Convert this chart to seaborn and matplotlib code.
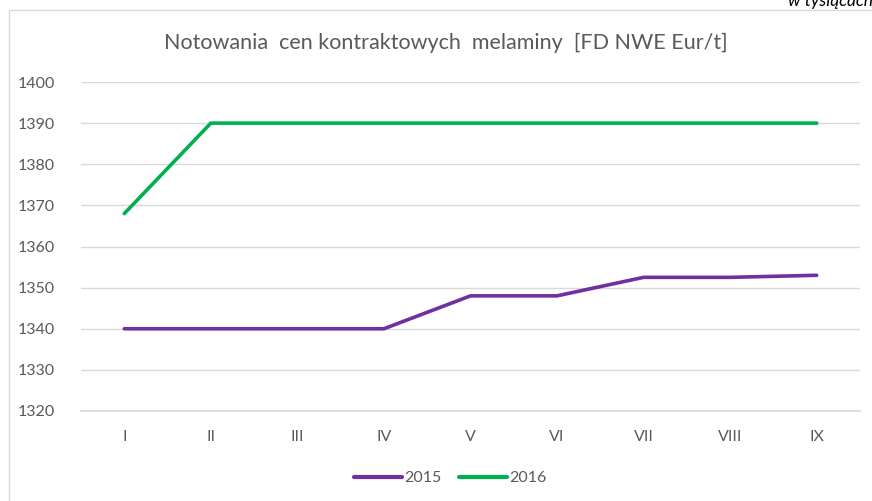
import matplotlib
matplotlib.use("Agg")
import matplotlib.pyplot as plt
import matplotlib.patches as mpatches
import pandas as pd
import seaborn as sns

MONTHS = ["I", "II", "III", "IV", "V", "VI", "VII", "VIII", "IX"]
PRICES_2015 = [1340, 1340, 1340, 1340, 1348, 1348, 1352.5, 1352.5, 1353]
PRICES_2016 = [1368, 1390, 1390, 1390, 1390, 1390, 1390, 1390, 1390]
Y_TICKS = [1320, 1330, 1340, 1350, 1360, 1370, 1380, 1390, 1400]

TITLE = "Notowania  cen kontraktowych  melaminy  [FD NWE Eur/t]"
PALETTE = {"2015": "#7030A0", "2016": "#00B050"}
TEXT_GREY = "#595959"
GRID_GREY = "#D9D9D9"

sns.set_theme(style="white")
plt.rcParams["font.family"] = ["Lato", "DejaVu Sans"]

df = pd.concat([
    pd.DataFrame({"pos": range(len(MONTHS)), "price": PRICES_2015, "year": "2015"}),
    pd.DataFrame({"pos": range(len(MONTHS)), "price": PRICES_2016, "year": "2016"}),
])

fig = plt.figure(figsize=(8.72, 5.01), dpi=100)
ax = fig.add_axes([81 / 872, 1 - 411 / 501, (860 - 81) / 872, (411 - 82) / 501])

sns.lineplot(data=df, x="pos", y="price", hue="year", palette=PALETTE,
             linewidth=2.6, ax=ax, legend=False, solid_capstyle="round")

ax.set_xlim(-0.5, len(MONTHS) - 0.5)
ax.set_ylim(Y_TICKS[0], Y_TICKS[-1])
ax.set_xticks(range(len(MONTHS)))
ax.set_xticklabels(MONTHS)
ax.set_yticks(Y_TICKS)
ax.set_xlabel("")
ax.set_ylabel("")
ax.tick_params(axis="both", length=0, colors=TEXT_GREY, labelsize=11.5)
ax.tick_params(axis="x", pad=14)
ax.tick_params(axis="y", pad=19)
ax.grid(axis="y", color=GRID_GREY, linewidth=1)
ax.set_axisbelow(True)
for side in ("left", "right", "top"):
    ax.spines[side].set_visible(False)
ax.spines["bottom"].set_color(GRID_GREY)

fig.text(446 / 872, 1 - 43 / 501, TITLE, ha="center", va="center",
         fontsize=15.5, color=TEXT_GREY)

handles = [plt.Line2D([], [], color=PALETTE[y], linewidth=3, solid_capstyle="round")
           for y in ("2015", "2016")]
fig.legend(handles, ["2015", "2016"], loc="center", bbox_to_anchor=(450 / 872, 1 - 478 / 501),
           ncol=2, frameon=False, fontsize=11.5, labelcolor=TEXT_GREY,
           handlelength=3.0, handletextpad=0.15, columnspacing=1.1)

# note in the top-right corner, clipped by the page edge as in the source
fig.text(788 / 872, 1 - 1 / 501, "w tysiącach", ha="left", va="center",
         fontsize=12.5, style="italic", color="#000000")

fig.patches.append(mpatches.Rectangle((9 / 872, -0.1), 1.2, 1.1 - 10 / 501,
                                      transform=fig.transFigure, fill=False,
                                      edgecolor=GRID_GREY, linewidth=1))

fig.savefig("out.png", dpi=100)
